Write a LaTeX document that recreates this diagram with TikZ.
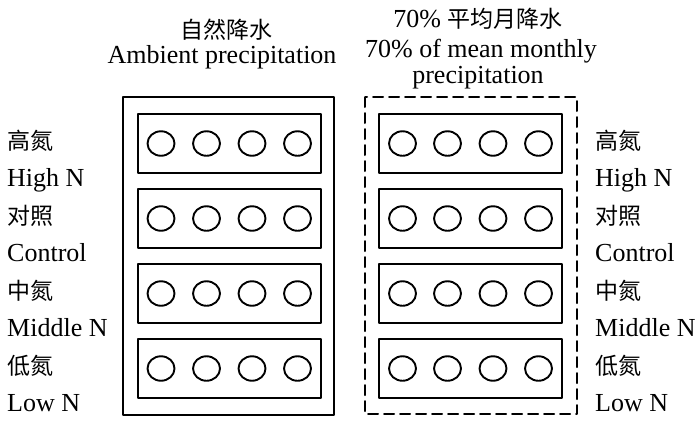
\documentclass[tikz,border=0pt]{standalone}
\usepackage{fontspec}
\setmainfont{Liberation Serif}
\newfontfamily\cjk{Noto Sans CJK SC}
\usepackage{tikz}
\usetikzlibrary{positioning,shapes.geometric}

\begin{document}
\begin{tikzpicture}[x=1pt,y=-1pt, line cap=round, line join=round]
	% ===== khung =====
	\useasboundingbox (0,0) rectangle (700,421);
	\tikzset{
		txt/.style={inner sep=0pt, font=\fontsize{26}{29}\selectfont},
		zh/.style={txt, font=\fontsize{23}{28}\selectfont\cjk},
		plot/.style={draw=black, line width=2pt, inner sep=0pt},
		pot/.style={draw=black, line width=1.9pt, ellipse, minimum width=27pt, minimum height=24.5pt, inner sep=0pt}
	}
	
	% ===== tiêu đề =====
	\node[zh] (tAmbZh) at (226,30) {自然降水};
	\node[txt, anchor=base] (tAmb) at (222,63) {Ambient precipitation};
	\node[txt, anchor=base] (tDryZh) at (478,27) {70\% {\cjk\fontsize{23}{28}\selectfont 平均月降水}};
	\node[txt, anchor=base] (tDry) at (481,57) {70\% of mean monthly};
	\node[txt, anchor=base] (tDry2) at (478,83) {precipitation};
	
	% ===== hai khung lớn =====
	\draw[line width=2pt] (123,97) rectangle (334,415);
	\draw[line width=2pt, dash pattern=on 10pt off 6pt] (365,97) rectangle (577,414);
	
	% ===== các hàng: ô + 4 chậu =====
	\foreach \r/\y in {1/143.5,2/218.5,3/293.5,4/368.5}{
		\draw[plot] (138,\y-29.5) rectangle (321,\y+29.5);
		\draw[plot] (379,\y-29.5) rectangle (562,\y+29.5);
		\foreach \i/\x in {1/161,2/206.5,3/252,4/297.5}
			\node[pot] (a\r\i) at (\x,\y) {};
		\foreach \i/\x in {1/402.5,2/447.5,3/493,4/538.5}
			\node[pot] (b\r\i) at (\x,\y) {};
	}
	
	% ===== nhãn hai bên =====
	\foreach \r/\y/\zhl/\enl in {1/143/高氮/High N,2/218/对照/Control,3/293/中氮/Middle N,4/368/低氮/Low N}{
		\node[zh, anchor=west] (lz\r) at (7,\y-2) {\zhl};
		\node[txt, anchor=base west] (le\r) at (7,\y+43) {\enl};
		\node[zh, anchor=west] (rz\r) at (595,\y-2) {\zhl};
		\node[txt, anchor=base west] (re\r) at (595,\y+43) {\enl};
	}
\end{tikzpicture}
\end{document}
